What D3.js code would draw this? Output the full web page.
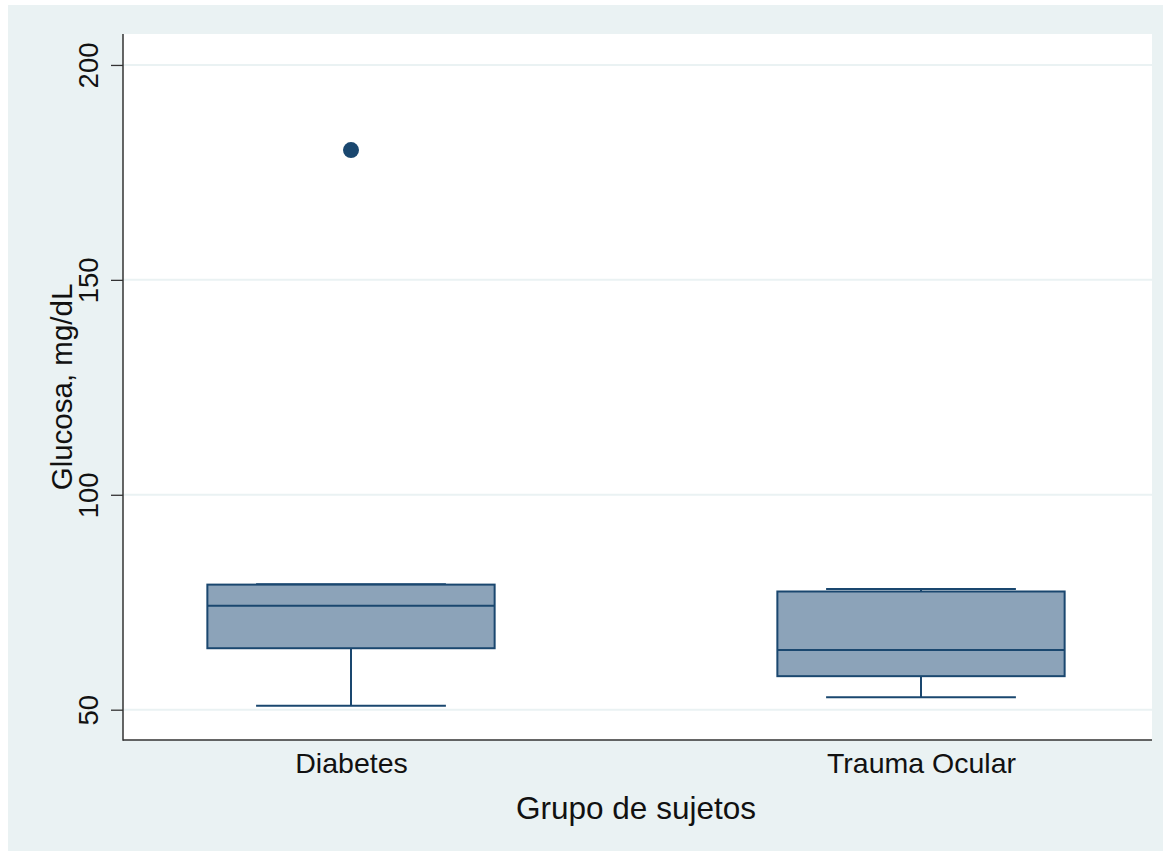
<!DOCTYPE html>
<html>
<head>
<meta charset="utf-8">
<script src="https://cdn.jsdelivr.net/npm/d3@7"></script>
<style>
  html, body { margin: 0; padding: 0; background: #ffffff; }
  svg { display: block; }
  text { font-family: "Liberation Sans", Arial, Helvetica, sans-serif; fill: #111; }
</style>
</head>
<body>
<svg id="chart" width="1171" height="856"></svg>
<script>
// ---- Data ----
const categories = ["Diabetes", "Trauma Ocular"];
const whiskerLow  = [50.9, 52.9];
const q1Values    = [64.3, 57.8];
const medianValues= [74.2, 63.9];
const q3Values    = [79.1, 77.5];
const whiskerHigh = [79.2, 78.1];
const outlierCategory = ["Diabetes"];
const outlierValues   = [180.2];
const yTicks = [50, 100, 150, 200];
const yTitle = "Glucosa, mg/dL";
const xTitle = "Grupo de sujetos";

// ---- Layout ----
const bg = { x: 8, y: 5, w: 1155, h: 846 };
const plot = { left: 123, right: 1152, top: 34, bottom: 740 };
const navy = "#1a476f";
const fill = "#8ca3b9";
const bgColor = "#eaf2f3";

const svg = d3.select("#chart");

svg.append("rect").attr("x", bg.x).attr("y", bg.y).attr("width", bg.w).attr("height", bg.h)
  .attr("fill", bgColor);
svg.append("rect").attr("x", plot.left).attr("y", plot.top)
  .attr("width", plot.right - plot.left).attr("height", plot.bottom - plot.top)
  .attr("fill", "#ffffff");

const y = d3.scaleLinear().domain([42.95, 207.2]).range([plot.bottom, plot.top]);
const x = d3.scalePoint().domain(categories).range([plot.left, plot.right - 3]).padding(0.4);
const step = x.step();
const boxW = step * 0.504;
const capW = step * 0.333;

// gridlines
svg.append("g").selectAll("line").data(yTicks).join("line")
  .attr("x1", plot.left).attr("x2", plot.right)
  .attr("y1", d => y(d)).attr("y2", d => y(d))
  .attr("stroke", bgColor).attr("stroke-width", 2);

// y axis
const yAxis = svg.append("g").attr("transform", `translate(${plot.left},0)`)
  .call(d3.axisLeft(y).tickValues(yTicks).tickSize(12).tickPadding(0).tickFormat(d3.format("d")));
yAxis.select(".domain").remove();
yAxis.selectAll(".tick line").attr("stroke", "#333").attr("stroke-width", 1.3);
yAxis.selectAll(".tick text")
  .attr("transform", "translate(-25,0) rotate(-90)")
  .attr("x", 0).attr("y", 0).attr("dy", 0)
  .attr("text-anchor", "middle")
  .style("font-size", "27.5px").style("font-family", "'Liberation Sans', Arial, sans-serif")
  .attr("fill", "#111");

// x axis
const xAxis = svg.append("g").attr("transform", `translate(0,${plot.bottom})`)
  .call(d3.axisBottom(x).tickSize(0).tickPadding(0));
xAxis.select(".domain").remove();
xAxis.selectAll(".tick text")
  .attr("y", 33).attr("dy", 0)
  .style("font-size", "28.5px").style("font-family", "'Liberation Sans', Arial, sans-serif")
  .attr("fill", "#111");

// axis lines
svg.append("line").attr("x1", plot.left).attr("x2", plot.left)
  .attr("y1", plot.top).attr("y2", plot.bottom + 0.7)
  .attr("stroke", "#333").attr("stroke-width", 1.5);
svg.append("line").attr("x1", plot.left).attr("x2", plot.right)
  .attr("y1", plot.bottom).attr("y2", plot.bottom)
  .attr("stroke", "#333").attr("stroke-width", 1.5);

// boxes
const rows = categories.map((c, i) => ({
  c, lo: whiskerLow[i], q1: q1Values[i], med: medianValues[i], q3: q3Values[i], hi: whiskerHigh[i]
}));
const g = svg.append("g");
rows.forEach(r => {
  const cx = x(r.c);
  g.append("line").attr("x1", cx).attr("x2", cx).attr("y1", y(r.q1)).attr("y2", y(r.lo))
    .attr("stroke", navy).attr("stroke-width", 2);
  g.append("line").attr("x1", cx).attr("x2", cx).attr("y1", y(r.q3)).attr("y2", y(r.hi))
    .attr("stroke", navy).attr("stroke-width", 2);
  g.append("line").attr("x1", cx - capW / 2).attr("x2", cx + capW / 2)
    .attr("y1", y(r.lo)).attr("y2", y(r.lo)).attr("stroke", navy).attr("stroke-width", 2);
  g.append("line").attr("x1", cx - capW / 2).attr("x2", cx + capW / 2)
    .attr("y1", y(r.hi)).attr("y2", y(r.hi)).attr("stroke", navy).attr("stroke-width", 2);
  g.append("rect").attr("x", cx - boxW / 2).attr("y", y(r.q3))
    .attr("width", boxW).attr("height", y(r.q1) - y(r.q3))
    .attr("fill", fill).attr("stroke", navy).attr("stroke-width", 2);
  g.append("line").attr("x1", cx - boxW / 2).attr("x2", cx + boxW / 2)
    .attr("y1", y(r.med)).attr("y2", y(r.med)).attr("stroke", navy).attr("stroke-width", 2);
});

// outliers
g.selectAll("circle.out").data(outlierValues.map((v, i) => ({ c: outlierCategory[i], v })))
  .join("circle").attr("class", "out")
  .attr("cx", d => x(d.c)).attr("cy", d => y(d.v)).attr("r", 8)
  .attr("fill", navy);

// titles
svg.append("text")
  .attr("transform", `translate(72,${(plot.top + plot.bottom) / 2}) rotate(-90)`)
  .attr("text-anchor", "middle")
  .style("font-size", "29.5px")
  .text(yTitle);
svg.append("text")
  .attr("x", 636).attr("y", 819)
  .attr("text-anchor", "middle")
  .style("font-size", "31.5px")
  .text(xTitle);
</script>
</body>
</html>
